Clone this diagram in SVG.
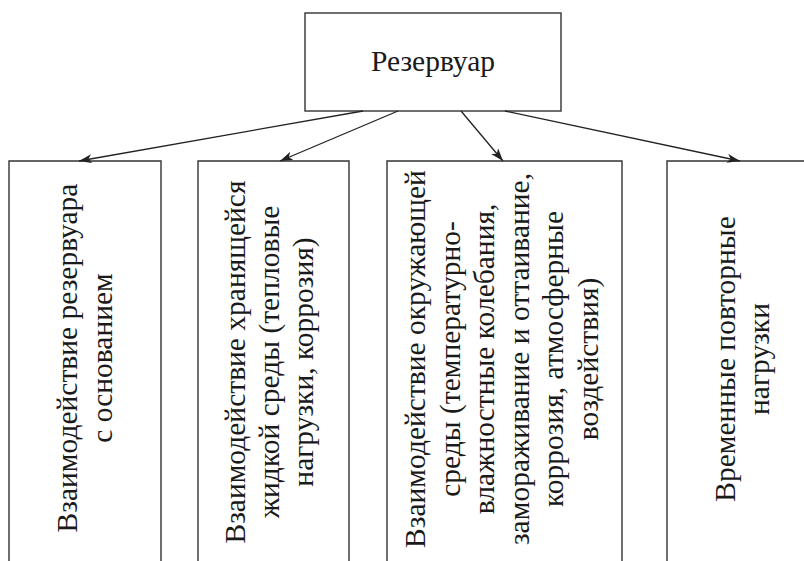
<svg xmlns="http://www.w3.org/2000/svg" width="804" height="561" viewBox="0 0 804 561">
<style>
.box{fill:none;stroke:#333;stroke-width:1.4}
.conn{fill:none;stroke:#222;stroke-width:1.3}
.t{font-family:'Liberation Serif','Times New Roman',serif;font-size:29.5px;fill:#1a1a1a;text-anchor:middle}
</style>
<defs>
<marker id="ah" markerUnits="userSpaceOnUse" markerWidth="14" markerHeight="10" refX="13" refY="4.5" orient="auto">
<path d="M0,0 L13,4.5 L0,9 L3.5,4.5 z" fill="#222"/>
</marker>
</defs>
<rect width="804" height="561" fill="#fff"/>
<g id="root">
<rect class="box" x="305" y="13" width="256" height="98"/>
<text class="t" x="433" y="71">Резервуар</text>
</g>
<g id="n1">
<path class="box" d="M9,580 V161 H161 V580"/>
<text class="t" transform="translate(77,358) rotate(-90)"><tspan x="0" y="0">Взаимодействие резервуара</tspan><tspan x="0" y="35">с основанием</tspan></text>
</g>
<g id="n2">
<path class="box" d="M198,580 V161 H349 V580"/>
<text class="t" transform="translate(245,362) rotate(-90)"><tspan x="0" y="0">Взаимодействие хранящейся</tspan><tspan x="0" y="34">жидкой среды (тепловые</tspan><tspan x="0" y="68">нагрузки, коррозия)</tspan></text>
</g>
<g id="n3">
<path class="box" d="M387,580 V161 H622 V580"/>
<text class="t" transform="translate(425,359) rotate(-90)"><tspan x="0" y="0">Взаимодействие окружающей</tspan><tspan x="0" y="34.6">среды (температурно-</tspan><tspan x="0" y="69.2">влажностные колебания,</tspan><tspan x="0" y="103.8">замораживание и оттаивание,</tspan><tspan x="0" y="138.4">коррозия, атмосферные</tspan><tspan x="0" y="173">воздействия)</tspan></text>
</g>
<g id="n4">
<path class="box" d="M667,580 V161 H820"/>
<text class="t" transform="translate(735,359) rotate(-90)"><tspan x="0" y="0">Временные повторные</tspan><tspan x="0" y="33.5">нагрузки</tspan></text>
</g>
<g id="connectors">
<line class="conn" x1="363" y1="111" x2="79" y2="161" marker-end="url(#ah)"/>
<line class="conn" x1="398" y1="111" x2="280" y2="161" marker-end="url(#ah)"/>
<line class="conn" x1="461" y1="111" x2="503" y2="161" marker-end="url(#ah)"/>
<line class="conn" x1="505" y1="111" x2="740" y2="161" marker-end="url(#ah)"/>
</g>
</svg>
